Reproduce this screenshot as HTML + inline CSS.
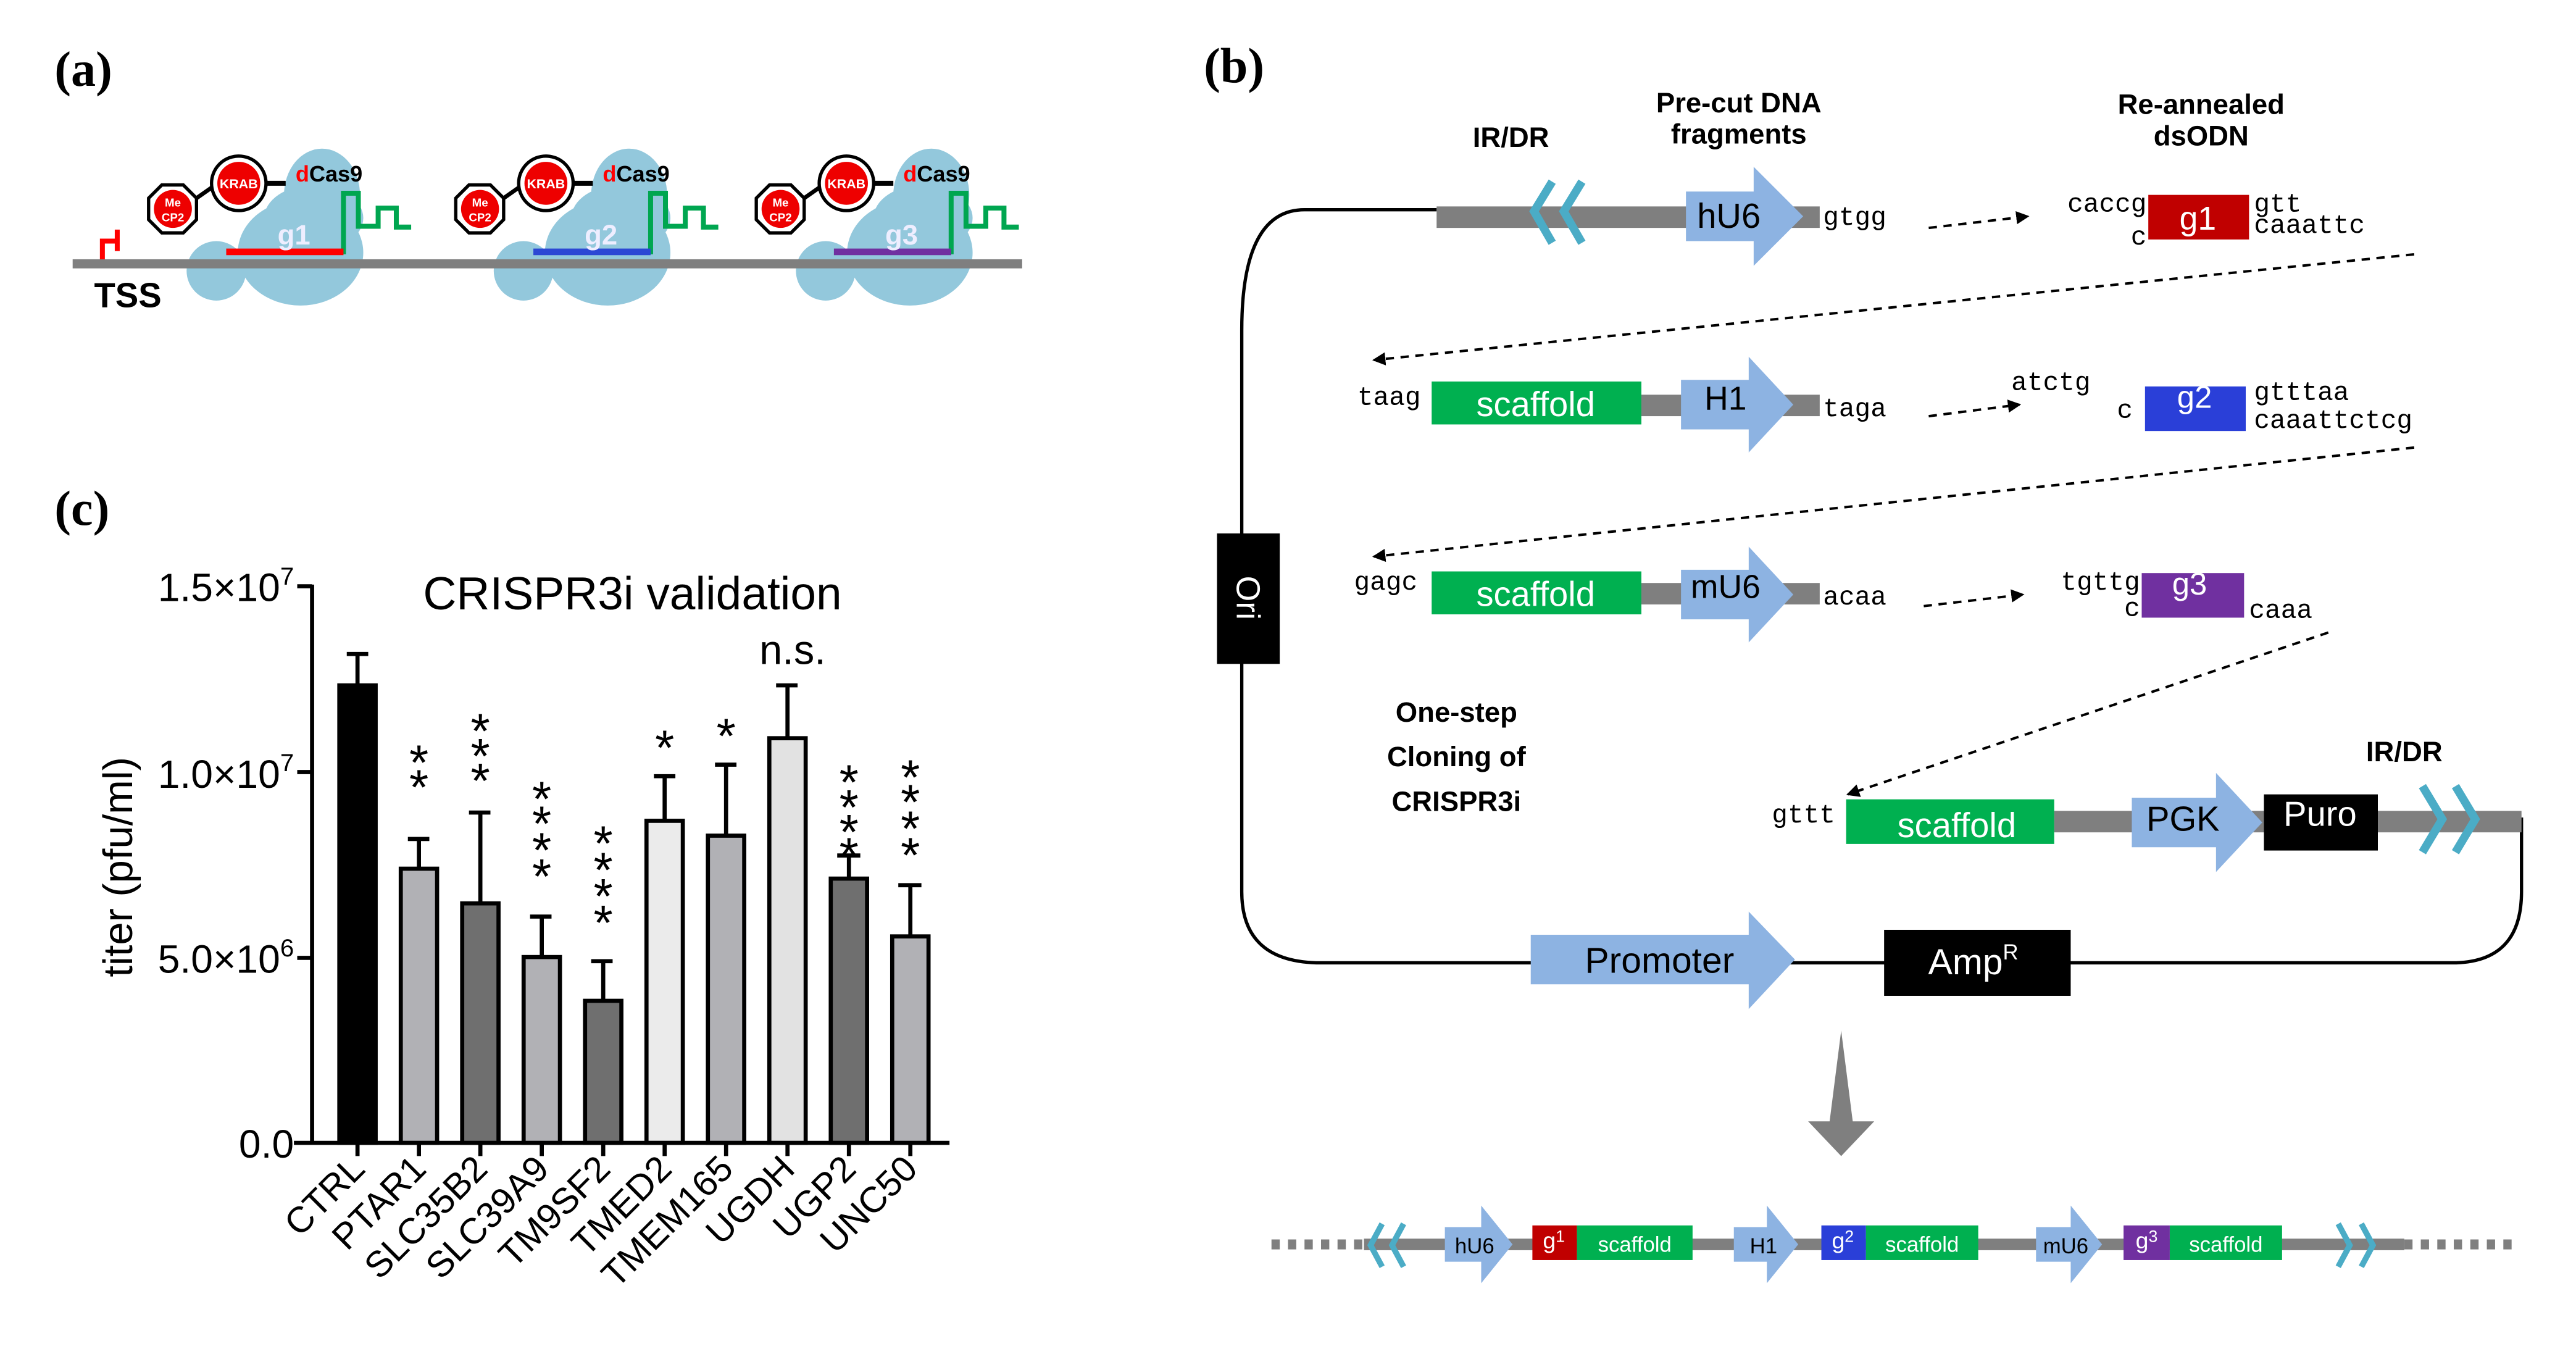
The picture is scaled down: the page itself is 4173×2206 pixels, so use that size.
<!DOCTYPE html>
<html><head><meta charset="utf-8"><style>
html,body{margin:0;padding:0;background:#fff;}
svg{display:block;}
.c{font-family:"Liberation Sans Narrow","Liberation Sans",sans-serif;}
.m{font-family:"Liberation Mono",monospace;font-size:16px;fill:#000;}
.a{font-family:"Liberation Sans",sans-serif;}
</style></head><body>
<svg width="4173" height="2206" viewBox="0 0 1560 824.7" preserveAspectRatio="none" xmlns="http://www.w3.org/2000/svg">
<defs>
<marker id="ah" markerWidth="8" markerHeight="8" refX="7" refY="4" orient="auto" markerUnits="userSpaceOnUse"><path d="M0,0 L8,4 L0,8 Z" fill="#000"/></marker>
<g id="cas">
  <ellipse cx="-47" cy="164" rx="18" ry="18" fill="#93c8dc"/>
  <ellipse cx="4" cy="153" rx="38" ry="32" fill="#93c8dc"/>
  <ellipse cx="17" cy="118" rx="23" ry="28" fill="#93c8dc"/>
  <ellipse cx="12" cy="132" rx="30" ry="20" fill="#93c8dc"/>
</g>
</defs>
<rect width="1560" height="825" fill="#fff"/>

<!-- Panel a -->
<text x="33" y="52" font-family="Liberation Serif,serif" font-weight="bold" font-size="30">(a)</text>
<g transform="translate(178,0)"><use href="#cas"/></g>
<g transform="translate(364,0)"><use href="#cas"/></g>
<g transform="translate(547,0)"><use href="#cas"/></g>
<rect x="44" y="157" width="575" height="5.5" fill="#7f7f7f"/>
<path d="M62,157 V146 H71 M71,139 V152" stroke="#ff0000" stroke-width="3" fill="none"/>
<text x="57" y="186" class="a" font-weight="bold" font-size="21">TSS</text>
<g id="unit1">
 <line x1="119" y1="120" x2="129" y2="113" stroke="#000" stroke-width="2.5"/>
 <line x1="161" y1="111" x2="173" y2="111" stroke="#000" stroke-width="3"/>
 <polygon points="98,112 111,112 119,120 119,133 111,141 98,141 90,133 90,120" fill="#fff" stroke="#000" stroke-width="2"/>
 <circle cx="104.7" cy="126.5" r="11.5" fill="#ee0000"/>
 <text x="104.7" y="125" text-anchor="middle" class="a" font-weight="bold" font-size="7" fill="#fff">Me</text>
 <text x="104.7" y="134" text-anchor="middle" class="a" font-weight="bold" font-size="7" fill="#fff">CP2</text>
 <circle cx="144.6" cy="111" r="16.5" fill="#fff" stroke="#000" stroke-width="2"/>
 <circle cx="144.6" cy="111" r="13" fill="#ee0000"/>
 <text x="144.6" y="114" text-anchor="middle" class="a" font-weight="bold" font-size="8" fill="#fff">KRAB</text>
 <text x="179" y="110" class="a" font-weight="bold" font-size="13.5"><tspan fill="#ff0000">d</tspan>Cas9</text>
 <path d="M208,154 V117 H217 V137 H229 V126 H240 V137.5 H249" stroke="#00a650" stroke-width="3" fill="none"/>
</g>
<rect x="137" y="150.5" width="71" height="4" fill="#ff0000"/>
<text x="178" y="148" text-anchor="middle" class="a" font-weight="bold" font-size="17" fill="#eef">g1</text>
<g transform="translate(186,0)"><use href="#unit1"/></g>
<rect x="323" y="150.5" width="71" height="4" fill="#2c47d4"/>
<text x="364" y="148" text-anchor="middle" class="a" font-weight="bold" font-size="17" fill="#eef">g2</text>
<g transform="translate(368,0)"><use href="#unit1"/></g>
<rect x="505" y="150.5" width="71" height="4" fill="#7030a0"/>
<text x="546" y="148" text-anchor="middle" class="a" font-weight="bold" font-size="17" fill="#eef">g3</text>

<!-- Panel c -->
<text x="33" y="318" font-family="Liberation Serif,serif" font-weight="bold" font-size="30">(c)</text>
<g class="a">
<line x1="189" y1="354" x2="189" y2="693" stroke="#000" stroke-width="2.5"/>
<line x1="178" y1="692" x2="575" y2="692" stroke="#000" stroke-width="2.5"/>
<g stroke="#000" stroke-width="2.5">
<line x1="180" y1="355" x2="189" y2="355"/><line x1="180" y1="467.5" x2="189" y2="467.5"/><line x1="180" y1="580" x2="189" y2="580"/>
</g>
<g font-size="24" text-anchor="end">
<text x="178" y="364">1.5×10<tspan font-size="15" dy="-10">7</tspan></text>
<text x="178" y="477">1.0×10<tspan font-size="15" dy="-10">7</tspan></text>
<text x="178" y="589">5.0×10<tspan font-size="15" dy="-10">6</tspan></text>
<text x="178" y="701">0.0</text>
</g>
<text transform="translate(80,525) rotate(-90)" text-anchor="middle" font-size="25">titer (pfu/ml)</text>
<text x="383" y="369" text-anchor="middle" font-size="28">CRISPR3i validation</text>
<text x="480" y="402" text-anchor="middle" font-size="25">n.s.</text>
<g stroke="#000" stroke-width="2.5">
<line x1="216.5" y1="396" x2="216.5" y2="415"/><line x1="210" y1="396" x2="223" y2="396"/>
<rect x="205.5" y="415" width="22" height="277" fill="#000"/>
<line x1="253.7" y1="508" x2="253.7" y2="526"/><line x1="247" y1="508" x2="260" y2="508"/>
<rect x="242.7" y="526" width="22" height="166" fill="#b1b1b5"/>
<line x1="290.9" y1="492" x2="290.9" y2="547"/><line x1="284" y1="492" x2="297" y2="492"/>
<rect x="279.9" y="547" width="22" height="145" fill="#6f6f6f"/>
<line x1="328.1" y1="555" x2="328.1" y2="579.5"/><line x1="321" y1="555" x2="334" y2="555"/>
<rect x="317.1" y="579.5" width="22" height="112.5" fill="#b1b1b5"/>
<line x1="365.3" y1="582" x2="365.3" y2="606"/><line x1="358" y1="582" x2="371" y2="582"/>
<rect x="354.3" y="606" width="22" height="86" fill="#6f6f6f"/>
<line x1="402.5" y1="470" x2="402.5" y2="497"/><line x1="396" y1="470" x2="409" y2="470"/>
<rect x="391.5" y="497" width="22" height="195" fill="#ebebeb"/>
<line x1="439.7" y1="463" x2="439.7" y2="506"/><line x1="433" y1="463" x2="446" y2="463"/>
<rect x="428.7" y="506" width="22" height="186" fill="#b1b1b5"/>
<line x1="476.9" y1="415" x2="476.9" y2="447"/><line x1="470" y1="415" x2="483" y2="415"/>
<rect x="465.9" y="447" width="22" height="245" fill="#e2e2e2"/>
<line x1="514.1" y1="518" x2="514.1" y2="532"/><line x1="507" y1="518" x2="521" y2="518"/>
<rect x="503.1" y="532" width="22" height="160" fill="#6f6f6f"/>
<line x1="551.3" y1="536" x2="551.3" y2="567"/><line x1="544" y1="536" x2="558" y2="536"/>
<rect x="540.3" y="567" width="22" height="125" fill="#b1b1b5"/>
<line x1="216.5" y1="692" x2="216.5" y2="700"/><line x1="253.7" y1="692" x2="253.7" y2="700"/><line x1="290.9" y1="692" x2="290.9" y2="700"/><line x1="328.1" y1="692" x2="328.1" y2="700"/><line x1="365.3" y1="692" x2="365.3" y2="700"/><line x1="402.5" y1="692" x2="402.5" y2="700"/><line x1="439.7" y1="692" x2="439.7" y2="700"/><line x1="476.9" y1="692" x2="476.9" y2="700"/><line x1="514.1" y1="692" x2="514.1" y2="700"/><line x1="551.3" y1="692" x2="551.3" y2="700"/>
</g>
<g font-size="30" text-anchor="middle">
<text x="253.7" y="472">*</text><text x="253.7" y="487">*</text>
<text x="290.9" y="453">*</text><text x="290.9" y="468">*</text><text x="290.9" y="483">*</text>
<text x="328.1" y="494">*</text><text x="328.1" y="509">*</text><text x="328.1" y="525">*</text><text x="328.1" y="541">*</text>
<text x="365.3" y="521">*</text><text x="365.3" y="537">*</text><text x="365.3" y="553">*</text><text x="365.3" y="569">*</text>
<text x="402.5" y="463">*</text>
<text x="439.7" y="456">*</text>
<text x="514.1" y="484">*</text><text x="514.1" y="499">*</text><text x="514.1" y="514">*</text><text x="514.1" y="528">*</text>
<text x="551.3" y="481">*</text><text x="551.3" y="496">*</text><text x="551.3" y="512">*</text><text x="551.3" y="528">*</text>
</g>
<g font-size="22" text-anchor="end">
<text transform="translate(222,709) rotate(-45)">CTRL</text>
<text transform="translate(259.2,709) rotate(-45)">PTAR1</text>
<text transform="translate(296.4,709) rotate(-45)">SLC35B2</text>
<text transform="translate(333.6,709) rotate(-45)">SLC39A9</text>
<text transform="translate(370.8,709) rotate(-45)">TM9SF2</text>
<text transform="translate(408,709) rotate(-45)">TMED2</text>
<text transform="translate(445.2,709) rotate(-45)">TMEM165</text>
<text transform="translate(482.4,709) rotate(-45)">UGDH</text>
<text transform="translate(519.6,709) rotate(-45)">UGP2</text>
<text transform="translate(556.8,709) rotate(-45)">UNC50</text>
</g>
</g>

<!-- Panel b -->
<text x="729" y="50" font-family="Liberation Serif,serif" font-weight="bold" font-size="30">(b)</text>
<path d="M870,127 H790 Q752,127 752,200 V540 Q752,583 800,583 H1485 Q1527,583 1527,540 V495" fill="none" stroke="#000" stroke-width="2"/>
<rect x="737" y="323" width="38" height="79" fill="#000"/>
<text transform="translate(749,362) rotate(90)" text-anchor="middle" class="a" font-size="20" fill="#fff">Ori</text>
<g class="c" font-weight="bold" font-size="17" text-anchor="middle">
<text x="915" y="89">IR/DR</text>
<text x="1053" y="68">Pre-cut DNA</text>
<text x="1053" y="87">fragments</text>
<text x="1333" y="69">Re-annealed</text>
<text x="1333" y="88">dsODN</text>
<text x="882" y="437">One-step</text>
<text x="882" y="464">Cloning of</text>
<text x="882" y="491">CRISPR3i</text>
<text x="1456" y="461">IR/DR</text>
</g>
<rect x="870" y="125" width="232" height="13" fill="#7f7f7f"/>
<g stroke="#4bacc6" stroke-width="5" fill="none"><polyline points="940,110 929,128 940,147"/><polyline points="958,110 947,128 958,147"/></g>
<polygon points="1021,116 1062,116 1062,101 1092,131 1062,161 1062,146 1021,146" fill="#8db3e2"/>
<text x="1047" y="138" text-anchor="middle" class="c" font-size="21">hU6</text>
<text x="1104" y="136" class="m">gtgg</text>
<line x1="1168" y1="138" x2="1228" y2="131" stroke="#000" stroke-width="1.5" stroke-dasharray="5,4" marker-end="url(#ah)"/>
<text x="1300" y="128" text-anchor="end" class="m">caccg</text>
<text x="1300" y="148" text-anchor="end" class="m">c</text>
<rect x="1301" y="118" width="61" height="27" fill="#c00000"/>
<text x="1331" y="139" text-anchor="middle" class="c" font-size="20" fill="#fff">g1</text>
<text x="1365" y="128" class="m">gtt</text>
<text x="1365" y="141" class="m">caaattc</text>
<line x1="1462" y1="154" x2="832" y2="218" stroke="#000" stroke-width="1.5" stroke-dasharray="5,4" marker-end="url(#ah)"/>
<rect x="994" y="239" width="108" height="13" fill="#7f7f7f"/>
<text x="822" y="245" class="m">taag</text>
<rect x="867" y="231" width="127" height="26" fill="#00b050"/>
<text x="930" y="252" text-anchor="middle" class="c" font-size="21" fill="#fff">scaffold</text>
<polygon points="1018,230 1059,230 1059,216 1086,245 1059,274 1059,260 1018,260" fill="#8db3e2"/>
<text x="1045" y="248" text-anchor="middle" class="c" font-size="20">H1</text>
<text x="1104" y="252" class="m">taga</text>
<line x1="1168" y1="252" x2="1223" y2="245" stroke="#000" stroke-width="1.5" stroke-dasharray="5,4" marker-end="url(#ah)"/>
<text x="1218" y="236" class="m">atctg</text>
<text x="1282" y="253" class="m">c</text>
<rect x="1299" y="234" width="61" height="27" fill="#2a3fd8"/>
<text x="1329" y="247" text-anchor="middle" class="c" font-size="19" fill="#fff">g2</text>
<text x="1365" y="242" class="m">gtttaa</text>
<text x="1365" y="259" class="m">caaattctcg</text>
<line x1="1462" y1="271" x2="832" y2="337" stroke="#000" stroke-width="1.5" stroke-dasharray="5,4" marker-end="url(#ah)"/>
<rect x="994" y="353" width="108" height="13" fill="#7f7f7f"/>
<text x="820" y="357" class="m">gagc</text>
<rect x="867" y="346" width="127" height="26" fill="#00b050"/>
<text x="930" y="367" text-anchor="middle" class="c" font-size="21" fill="#fff">scaffold</text>
<polygon points="1018,345 1059,345 1059,331 1086,360 1059,389 1059,375 1018,375" fill="#8db3e2"/>
<text x="1045" y="362" text-anchor="middle" class="c" font-size="20">mU6</text>
<text x="1104" y="366" class="m">acaa</text>
<line x1="1165" y1="367" x2="1225" y2="360" stroke="#000" stroke-width="1.5" stroke-dasharray="5,4" marker-end="url(#ah)"/>
<text x="1296" y="357" text-anchor="end" class="m">tgttg</text>
<text x="1296" y="373" text-anchor="end" class="m">c</text>
<rect x="1297" y="347" width="62" height="27" fill="#7030a0"/>
<text x="1326" y="360" text-anchor="middle" class="c" font-size="19" fill="#fff">g3</text>
<text x="1362" y="374" class="m">caaa</text>
<line x1="1410" y1="383" x2="1119" y2="481" stroke="#000" stroke-width="1.5" stroke-dasharray="5,4" marker-end="url(#ah)"/>
<rect x="1244" y="491" width="283" height="13" fill="#7f7f7f"/>
<text x="1073" y="498" class="m">gttt</text>
<rect x="1118" y="484" width="126" height="27" fill="#00b050"/>
<text x="1185" y="507" text-anchor="middle" class="c" font-size="21" fill="#fff">scaffold</text>
<polygon points="1291,483 1342,483 1342,468 1370,498 1342,528 1342,513 1291,513" fill="#8db3e2"/>
<text x="1322" y="503" text-anchor="middle" class="c" font-size="21">PGK</text>
<rect x="1371" y="481" width="69" height="34" fill="#000"/>
<text x="1405" y="500" text-anchor="middle" class="c" font-size="21" fill="#fff">Puro</text>
<g stroke="#4bacc6" stroke-width="5" fill="none"><polyline points="1467,476 1479,496 1467,516"/><polyline points="1487,476 1499,496 1487,516"/></g>
<polygon points="927,566 1059,566 1059,552 1087,581 1059,611 1059,596 927,596" fill="#8db3e2"/>
<text x="1005" y="589" text-anchor="middle" class="c" font-size="22">Promoter</text>
<rect x="1141" y="563" width="113" height="40" fill="#000"/>
<text x="1195" y="590" text-anchor="middle" class="c" font-size="22" fill="#fff">Amp<tspan font-size="13" dy="-9">R</tspan></text>
<polygon points="1115,624 1122,679 1135,679 1115,700 1095,679 1108,679" fill="#7f7f7f"/>
<line x1="770" y1="753.5" x2="826" y2="753.5" stroke="#7f7f7f" stroke-width="6" stroke-dasharray="5,5"/>
<rect x="826" y="750" width="630" height="7" fill="#7f7f7f"/>
<line x1="1456" y1="753.5" x2="1523" y2="753.5" stroke="#7f7f7f" stroke-width="6" stroke-dasharray="5,5"/>
<g stroke="#4bacc6" stroke-width="3.5" fill="none"><polyline points="837,741 830,754 837,767"/><polyline points="850,741 843,754 850,767"/><polyline points="1416,741 1423,754 1416,767"/><polyline points="1430,741 1437,754 1430,767"/></g>
<polygon points="875,743 897,743 897,730 916,753.5 897,777 897,764 875,764" fill="#8db3e2"/>
<text x="893" y="759" text-anchor="middle" class="c" font-size="13">hU6</text>
<rect x="928" y="742" width="27" height="21" fill="#c00000"/>
<text x="941" y="756" text-anchor="middle" class="c" font-size="14" fill="#fff">g<tspan font-size="10" dy="-4">1</tspan></text>
<rect x="955" y="742" width="70" height="21" fill="#00b050"/>
<text x="990" y="758" text-anchor="middle" class="c" font-size="13" fill="#fff">scaffold</text>
<polygon points="1050,743 1070,743 1070,730 1089,753.5 1070,777 1070,764 1050,764" fill="#8db3e2"/>
<text x="1068" y="759" text-anchor="middle" class="c" font-size="13">H1</text>
<rect x="1103" y="742" width="27" height="21" fill="#2a3fd8"/>
<text x="1116" y="756" text-anchor="middle" class="c" font-size="14" fill="#fff">g<tspan font-size="10" dy="-4">2</tspan></text>
<rect x="1130" y="742" width="68" height="21" fill="#00b050"/>
<text x="1164" y="758" text-anchor="middle" class="c" font-size="13" fill="#fff">scaffold</text>
<polygon points="1233,743 1254,743 1254,730 1273,753.5 1254,777 1254,764 1233,764" fill="#8db3e2"/>
<text x="1251" y="759" text-anchor="middle" class="c" font-size="13">mU6</text>
<rect x="1286" y="742" width="28" height="21" fill="#7030a0"/>
<text x="1300" y="756" text-anchor="middle" class="c" font-size="14" fill="#fff">g<tspan font-size="10" dy="-4">3</tspan></text>
<rect x="1314" y="742" width="68" height="21" fill="#00b050"/>
<text x="1348" y="758" text-anchor="middle" class="c" font-size="13" fill="#fff">scaffold</text>
</svg>
</body></html>
